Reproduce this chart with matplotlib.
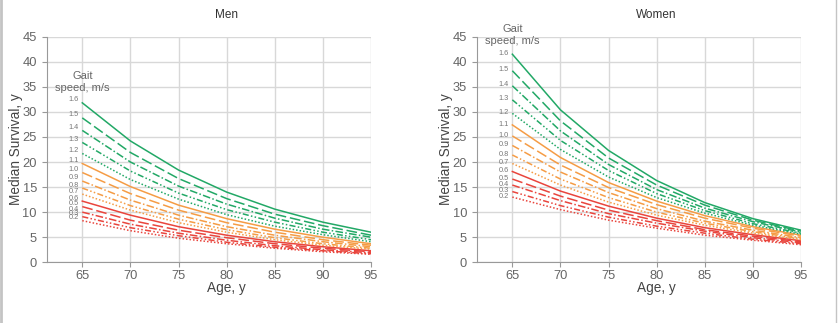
import matplotlib
matplotlib.use("Agg")
import matplotlib.pyplot as plt
from matplotlib.lines import Line2D

plt.rcParams['font.family'] = ['Liberation Sans', 'DejaVu Sans']

AGES = [65, 70, 75, 80, 85, 90, 95]
SPEEDS = ["0.2", "0.3", "0.4", "0.5", "0.6", "0.7", "0.8", "0.9",
          "1.0", "1.1", "1.2", "1.3", "1.4", "1.5", "1.6"]

# median survival (years) by gait speed
MEN = [
    [8.3, 6.3, 4.8, 3.7, 2.8, 2.1, 1.6],
    [9.1, 6.9, 5.3, 4.0, 3.0, 2.3, 1.7],
    [10.0, 7.6, 5.8, 4.4, 3.3, 2.5, 1.9],
    [11.1, 8.4, 6.4, 4.9, 3.7, 2.8, 2.1],
    [12.2, 9.4, 7.1, 5.4, 4.1, 3.1, 2.3],
    [13.6, 10.4, 7.9, 6.0, 4.5, 3.4, 2.6],
    [14.8, 11.3, 8.6, 6.5, 4.9, 3.7, 2.8],
    [16.2, 12.4, 9.4, 7.1, 5.4, 4.1, 3.1],
    [17.9, 13.7, 10.4, 7.9, 6.0, 4.5, 3.4],
    [19.7, 15.1, 11.4, 8.7, 6.6, 5.0, 3.7],
    [21.7, 16.5, 12.6, 9.5, 7.2, 5.5, 4.1],
    [23.9, 18.2, 13.8, 10.5, 8.0, 6.0, 4.5],
    [26.3, 20.0, 15.2, 11.6, 8.8, 6.6, 5.0],
    [28.8, 21.9, 16.7, 12.7, 9.6, 7.3, 5.4],
    [31.8, 24.2, 18.4, 14.0, 10.6, 8.0, 6.0],
]

WOMEN = [
    [13.0, 10.5, 8.4, 6.8, 5.4, 4.4, 3.5],
    [14.1, 11.3, 9.0, 7.2, 5.8, 4.6, 3.7],
    [15.4, 12.3, 9.7, 7.8, 6.2, 4.9, 3.9],
    [16.6, 13.2, 10.4, 8.3, 6.5, 5.2, 4.1],
    [18.1, 14.2, 11.2, 8.8, 6.9, 5.5, 4.3],
    [19.7, 15.4, 12.0, 9.4, 7.4, 5.8, 4.5],
    [21.4, 16.6, 12.9, 10.0, 7.8, 6.1, 4.7],
    [23.3, 18.0, 13.9, 10.7, 8.2, 6.4, 4.9],
    [25.2, 19.4, 14.9, 11.5, 8.8, 6.8, 5.2],
    [27.4, 20.9, 15.9, 12.2, 9.3, 7.1, 5.4],
    [29.7, 22.5, 17.0, 12.9, 9.8, 7.4, 5.6],
    [32.4, 24.3, 18.3, 13.7, 10.3, 7.7, 5.8],
    [35.2, 26.2, 19.5, 14.5, 10.8, 8.1, 6.0],
    [38.2, 28.2, 20.8, 15.4, 11.4, 8.4, 6.2],
    [41.5, 30.4, 22.3, 16.3, 11.9, 8.7, 6.4],
]

COLORS = ["#e9453d", "#f59c45", "#22a866"]
# within each colour group: lowest speed dotted ... highest speed solid
STYLES = [(0, (1, 1.3)), (0, (4, 1.5, 1, 1.5, 1, 1.5)), (0, (5, 1.5, 1, 1.5)),
          (0, (7, 2.5)), "-"]
GRAY = "#666666"


def draw_panel(ax, data, title, label_dy, gait_y):
    for i, vals in enumerate(data):
        ax.plot(AGES, vals, color=COLORS[i // 5], linestyle=STYLES[i % 5],
                lw=1.1, zorder=3)
        ax.annotate(SPEEDS[i], (AGES[0], vals[0]), xytext=(-2.5, label_dy),
                    textcoords="offset points", ha="right", va="center",
                    fontsize=5.3, color="#777777")

    ax.set_xlim(61.3, 95)
    ax.set_ylim(0, 45)
    ax.set_xticks(range(65, 96, 5))
    ax.set_yticks(range(0, 46, 5))
    ax.grid(True, color="#d8d8d8", lw=1)
    ax.set_axisbelow(True)
    for side in ["top", "right"]:
        ax.spines[side].set_visible(False)
    for side in ["left", "bottom"]:
        ax.spines[side].set_color("#999999")
    ax.tick_params(colors="#999999", labelcolor=GRAY, labelsize=9.3,
                   length=3.5, width=0.8)
    ax.tick_params(axis="x", pad=2)

    ax.text(80, 1.097, title, transform=ax.get_xaxis_transform(),
            ha="center", va="center", fontsize=8.5, color="#333333")
    ax.text(65, gait_y, "Gait\nspeed, m/s", ha="center", va="bottom",
            fontsize=8, color=GRAY, linespacing=1.25)
    ax.text(80, -0.112, "Age, y", transform=ax.get_xaxis_transform(),
            ha="center", va="center", fontsize=9.8, color="#444444")
    ax.set_ylabel("Median Survival, y", fontsize=9.8, color="#444444")
    ax.yaxis.set_label_coords(-0.073, 0.5)


fig = plt.figure(figsize=(8.38, 3.23), dpi=100)
ax1 = fig.add_axes([0.0557, 0.188, 0.387, 0.6985])
ax2 = fig.add_axes([0.5689, 0.188, 0.387, 0.6985])

draw_panel(ax1, MEN, "Men", 2.2, 33.8)
draw_panel(ax2, WOMEN, "Women", 0.6, 43.2)

fig.add_artist(Line2D([0.0012, 0.0012], [0, 1], transform=fig.transFigure,
                      color="#c4c4c4", lw=2))
fig.add_artist(Line2D([0.9975, 0.9975], [0, 1], transform=fig.transFigure,
                      color="#c4c4c4", lw=1))

fig.savefig("out.png", dpi=100)
